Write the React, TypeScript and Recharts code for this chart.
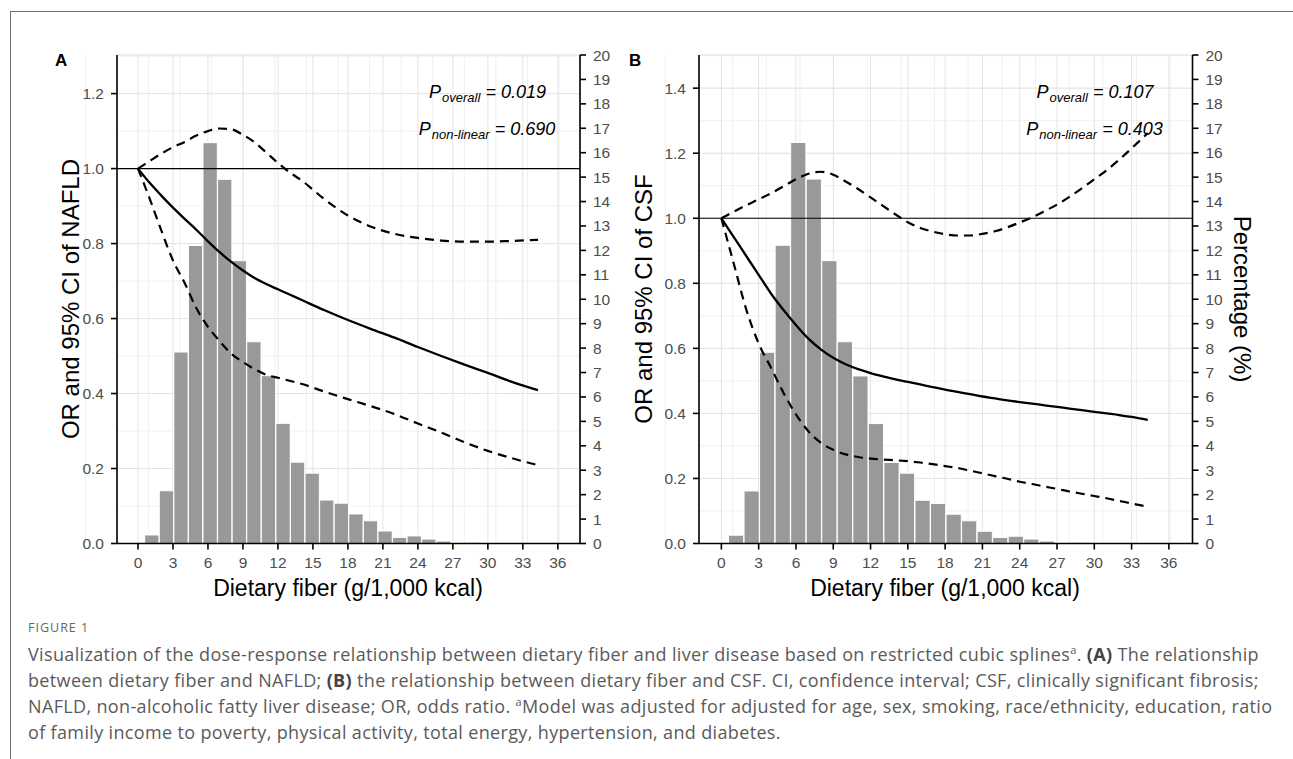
import React from 'react';
import { ComposedChart, Bar, Line, XAxis, YAxis, CartesianGrid, ReferenceLine } from 'recharts';

// histogram of dietary fiber (bin midpoints, % of participants)
const binMid = [1.2, 2.45, 3.7, 4.95, 6.2, 7.45, 8.7, 9.95, 11.2, 12.45, 13.7, 14.95, 16.2, 17.45, 18.7, 19.95, 21.2, 22.45, 23.7, 24.95, 26.2, 27.45, 28.7];
const pctNAFLD = [0.35, 2.16, 7.84, 12.2, 16.41, 14.91, 11.58, 8.26, 6.87, 4.92, 3.33, 2.88, 1.78, 1.65, 1.21, 0.93, 0.51, 0.25, 0.31, 0.18, 0.1, 0.01, 0.03];
const pctCSF = [0.34, 2.15, 7.83, 12.21, 16.42, 14.92, 11.58, 8.26, 6.86, 4.91, 3.32, 2.88, 1.77, 1.64, 1.2, 0.93, 0.5, 0.25, 0.3, 0.18, 0.1, 0.01, 0.03];

// restricted cubic spline, panel A (NAFLD)
const splineXA = [0, 1, 2, 3, 4, 5, 6, 7, 8, 9, 10, 11, 12, 13, 14, 16, 18, 20, 22, 24, 26, 28, 30, 32, 34.3];
const orNAFLD = [1.0, 0.962, 0.928, 0.896, 0.866, 0.837, 0.806, 0.777, 0.751, 0.728, 0.708, 0.692, 0.678, 0.664, 0.65, 0.622, 0.596, 0.572, 0.549, 0.524, 0.5, 0.477, 0.455, 0.432, 0.409];
const upperNAFLD = [1.0, 1.02, 1.04, 1.057, 1.071, 1.088, 1.1, 1.107, 1.105, 1.09, 1.07, 1.043, 1.015, 0.99, 0.969, 0.918, 0.875, 0.845, 0.826, 0.815, 0.808, 0.805, 0.805, 0.807, 0.81];
const lowerNAFLD = [1.0, 0.92, 0.835, 0.755, 0.695, 0.628, 0.578, 0.54, 0.506, 0.484, 0.465, 0.45, 0.442, 0.434, 0.426, 0.405, 0.385, 0.366, 0.345, 0.32, 0.296, 0.27, 0.247, 0.228, 0.209];

// restricted cubic spline, panel B (CSF)
const splineXB = [0, 1, 2, 3, 4, 5, 6, 7, 8, 9, 10, 11, 12, 13, 14, 15, 16, 17, 18, 19, 20, 21, 22, 23, 24, 25, 26, 27, 28, 29, 30, 31, 32, 33, 34.3];
const orCSF = [1.0, 0.942, 0.884, 0.826, 0.768, 0.718, 0.672, 0.63, 0.597, 0.571, 0.551, 0.536, 0.524, 0.514, 0.505, 0.497, 0.489, 0.481, 0.473, 0.466, 0.459, 0.452, 0.446, 0.44, 0.435, 0.43, 0.425, 0.42, 0.415, 0.41, 0.405, 0.4, 0.395, 0.389, 0.38];
const upperCSF = [1.0, 1.02, 1.04, 1.058, 1.077, 1.098, 1.12, 1.137, 1.143, 1.134, 1.113, 1.09, 1.064, 1.038, 1.012, 0.988, 0.97, 0.959, 0.951, 0.947, 0.947, 0.952, 0.96, 0.972, 0.987, 1.003, 1.022, 1.042, 1.066, 1.092, 1.12, 1.148, 1.18, 1.215, 1.262];
const lowerCSF = [1.0, 0.86, 0.72, 0.615, 0.54, 0.463, 0.397, 0.345, 0.31, 0.288, 0.274, 0.266, 0.261, 0.258, 0.256, 0.253, 0.249, 0.244, 0.238, 0.232, 0.224, 0.216, 0.207, 0.199, 0.19, 0.183, 0.175, 0.168, 0.16, 0.153, 0.146, 0.139, 0.131, 0.123, 0.113];

// axis ticks
const xTicks = [0, 3, 6, 9, 12, 15, 18, 21, 24, 27, 30, 33, 36];
const xMinor = [-1.5, 0, 1.5, 3, 4.5, 6, 7.5, 9, 10.5, 12, 13.5, 15, 16.5, 18, 19.5, 21, 22.5, 24, 25.5, 27, 28.5, 30, 31.5, 33, 34.5, 36, 37.5];
const pctTicks = [0, 1, 2, 3, 4, 5, 6, 7, 8, 9, 10, 11, 12, 13, 14, 15, 16, 17, 18, 19, 20];
const orTicksA = [0, 0.2, 0.4, 0.6, 0.8, 1.0, 1.2];
const orMinorA = [0, 0.1, 0.2, 0.3, 0.4, 0.5, 0.6, 0.7, 0.8, 0.9, 1.0, 1.1, 1.2, 1.3];
const orTicksB = [0, 0.2, 0.4, 0.6, 0.8, 1.0, 1.2, 1.4];
const orMinorB = [0, 0.1, 0.2, 0.3, 0.4, 0.5, 0.6, 0.7, 0.8, 0.9, 1.0, 1.1, 1.2, 1.3, 1.4, 1.5];

const FONT = '"Liberation Sans", Arial, Helvetica, sans-serif';
const tickStyle = { fill: '#4d4d4d', fontSize: 15.5, fontFamily: FONT };
const axisStroke = { stroke: '#000', strokeWidth: 1.6 };
const X_DOMAIN: [number, number] = [-1.8, 37.9];

type PanelProps = {
  left: number;
  top: number;
  right: number;
  bottom: number;
  orMax: number;
  orTicks: number[];
  orMinor: number[];
  pct: number[];
  splineX: number[];
  estimate: number[];
  upper: number[];
  lower: number[];
  barSize: number;
};

const toRows = (xs: number[], ys: number[]) => xs.map((x, i) => ({ x, y: ys[i] }));

const Panel = (p: PanelProps) => {
  const chartLeft = p.left - 62;
  const chartTop = p.top - 10;
  const width = p.right + 48 - chartLeft;
  const height = p.bottom + 40 - chartTop;
  const hist = binMid.map((x, i) => ({ x, pct: p.pct[i] }));

  const dashed = {
    xAxisId: 'main',
    yAxisId: 'or',
    dataKey: 'y',
    type: 'monotone' as const,
    stroke: '#000',
    strokeWidth: 2.2,
    strokeDasharray: '9 6',
    dot: false,
    isAnimationActive: false,
  };

  return (
    <div style={{ position: 'absolute', left: chartLeft, top: chartTop }}>
      <ComposedChart width={width} height={height} data={hist} margin={{ top: 10, right: 3, bottom: 5, left: 2 }}>
        <XAxis xAxisId="minor" type="number" domain={X_DOMAIN} ticks={xMinor} allowDataOverflow hide height={0} />
        <XAxis xAxisId="hist" dataKey="x" type="number" domain={X_DOMAIN} allowDataOverflow hide height={0} />
        <YAxis yAxisId="minor" type="number" domain={[0, p.orMax]} ticks={p.orMinor} allowDataOverflow hide width={0} />
        <CartesianGrid xAxisId="minor" yAxisId="minor" stroke="#f0f0f0" strokeWidth={1} />
        <CartesianGrid xAxisId="main" yAxisId="or" stroke="#e4e4e4" strokeWidth={1} />
        <XAxis
          xAxisId="main"
          dataKey="x"
          type="number"
          domain={X_DOMAIN}
          ticks={xTicks}
          allowDataOverflow
          interval={0}
          height={35}
          tickSize={6}
          tickMargin={7}
          tick={tickStyle}
          axisLine={axisStroke}
          tickLine={axisStroke}
        />
        <YAxis
          yAxisId="or"
          orientation="left"
          type="number"
          domain={[0, p.orMax]}
          ticks={p.orTicks}
          allowDataOverflow
          interval={0}
          width={60}
          tickSize={6}
          tickMargin={7}
          tick={tickStyle}
          tickFormatter={(v: number) => v.toFixed(1)}
          axisLine={axisStroke}
          tickLine={axisStroke}
        />
        <YAxis
          yAxisId="pct"
          orientation="right"
          type="number"
          domain={[0, 20]}
          ticks={pctTicks}
          allowDataOverflow
          interval={0}
          width={45}
          tickSize={6}
          tickMargin={7}
          tick={tickStyle}
          axisLine={axisStroke}
          tickLine={axisStroke}
        />
        <Bar
          xAxisId="hist"
          yAxisId="pct"
          dataKey="pct"
          fill="#999999"
          stroke="#ffffff"
          strokeWidth={1}
          barSize={p.barSize}
          isAnimationActive={false}
        />
        <ReferenceLine xAxisId="main" yAxisId="or" y={1} stroke="#000" strokeWidth={1.1} />
        <Line {...dashed} data={toRows(p.splineX, p.upper)} />
        <Line {...dashed} data={toRows(p.splineX, p.lower)} />
        <Line
          xAxisId="main"
          yAxisId="or"
          data={toRows(p.splineX, p.estimate)}
          dataKey="y"
          type="monotone"
          stroke="#000"
          strokeWidth={2.3}
          dot={false}
          isAnimationActive={false}
        />
      </ComposedChart>
    </div>
  );
};

const PLabel = ({ cx, top, sub, value }: { cx: number; top: number; sub: string; value: string }) => (
  <div
    style={{
      position: 'absolute',
      left: cx,
      top,
      transform: 'translateX(-50%)',
      whiteSpace: 'nowrap',
      fontStyle: 'italic',
      fontSize: 18,
      lineHeight: '18px',
      color: '#000',
    }}
  >
    P<span style={{ fontSize: 13, position: 'relative', top: 4, marginLeft: 1 }}>{sub}</span> = {value}
  </div>
);

const Title = ({ cx, cy, text, rot, size }: { cx: number; cy: number; text: string; rot: number; size: number }) => (
  <div
    style={{
      position: 'absolute',
      left: cx,
      top: cy,
      transform: `translate(-50%, -50%) rotate(${rot}deg)`,
      whiteSpace: 'nowrap',
      fontSize: size,
      lineHeight: `${size}px`,
      color: '#000',
    }}
  >
    {text}
  </div>
);

const capLine = { position: 'absolute' as const, left: 28, whiteSpace: 'nowrap' as const, lineHeight: '20px' };
const supA = <span style={{ fontSize: 11, position: 'relative', top: -7 }}>a</span>;

export default function App() {
  return (
    <div
      style={{
        position: 'absolute',
        left: 0,
        top: 0,
        width: 1293,
        height: 759,
        overflow: 'hidden',
        background: '#fff',
        fontFamily: FONT,
      }}
    >
      <div
        style={{
          position: 'absolute',
          left: 10,
          top: 11,
          width: 1300,
          height: 800,
          borderTop: '1px solid #707070',
          borderLeft: '1px solid #707070',
        }}
      />

      <Panel
        left={116.5}
        top={55}
        right={579.5}
        bottom={543.5}
        orMax={1.303}
        orTicks={orTicksA}
        orMinor={orMinorA}
        pct={pctNAFLD}
        splineX={splineXA}
        estimate={orNAFLD}
        upper={upperNAFLD}
        lower={lowerNAFLD}
        barSize={14.3}
      />
      <Panel
        left={698.5}
        top={55}
        right={1192}
        bottom={543.5}
        orMax={1.502}
        orTicks={orTicksB}
        orMinor={orMinorB}
        pct={pctCSF}
        splineX={splineXB}
        estimate={orCSF}
        upper={upperCSF}
        lower={lowerCSF}
        barSize={15.2}
      />

      <div style={{ position: 'absolute', left: 55, top: 52, fontSize: 17, fontWeight: 'bold', lineHeight: '17px' }}>A</div>
      <div style={{ position: 'absolute', left: 629, top: 52, fontSize: 17, fontWeight: 'bold', lineHeight: '17px' }}>B</div>

      <PLabel cx={487.5} top={83} sub="overall" value="0.019" />
      <PLabel cx={487} top={120} sub="non-linear" value="0.690" />
      <PLabel cx={1095} top={83} sub="overall" value="0.107" />
      <PLabel cx={1094.5} top={120} sub="non-linear" value="0.403" />

      <Title cx={71} cy={299} text="OR and 95% CI of NAFLD" rot={-90} size={24} />
      <Title cx={644} cy={299} text="OR and 95% CI of CSF" rot={-90} size={24} />
      <Title cx={1242} cy={299} text="Percentage (%)" rot={90} size={24} />
      <Title cx={348} cy={588} text="Dietary fiber (g/1,000 kcal)" rot={0} size={23} />
      <Title cx={945} cy={588} text="Dietary fiber (g/1,000 kcal)" rot={0} size={23} />

      <div style={{ fontFamily: '"Open Sans", sans-serif', color: '#5a5a5a', fontSize: 18, letterSpacing: 0.35 }}>
        <div style={{ ...capLine, top: 618, fontSize: 12.5, letterSpacing: 1, color: '#666' }}>FIGURE 1</div>
        <div style={{ ...capLine, top: 644 }}>
          Visualization of the dose-response relationship between dietary fiber and liver disease based on restricted cubic splines
          {supA}. <b style={{ color: '#444' }}>(A)</b> The relationship
        </div>
        <div style={{ ...capLine, top: 670 }}>
          between dietary fiber and NAFLD; <b style={{ color: '#444' }}>(B)</b> the relationship between dietary fiber and CSF. CI, confidence interval; CSF, clinically significant fibrosis;
        </div>
        <div style={{ ...capLine, top: 696 }}>
          NAFLD, non-alcoholic fatty liver disease; OR, odds ratio. {supA}Model was adjusted for adjusted for age, sex, smoking, race/ethnicity, education, ratio
        </div>
        <div style={{ ...capLine, top: 722 }}>
          of family income to poverty, physical activity, total energy, hypertension, and diabetes.
        </div>
      </div>
    </div>
  );
}
